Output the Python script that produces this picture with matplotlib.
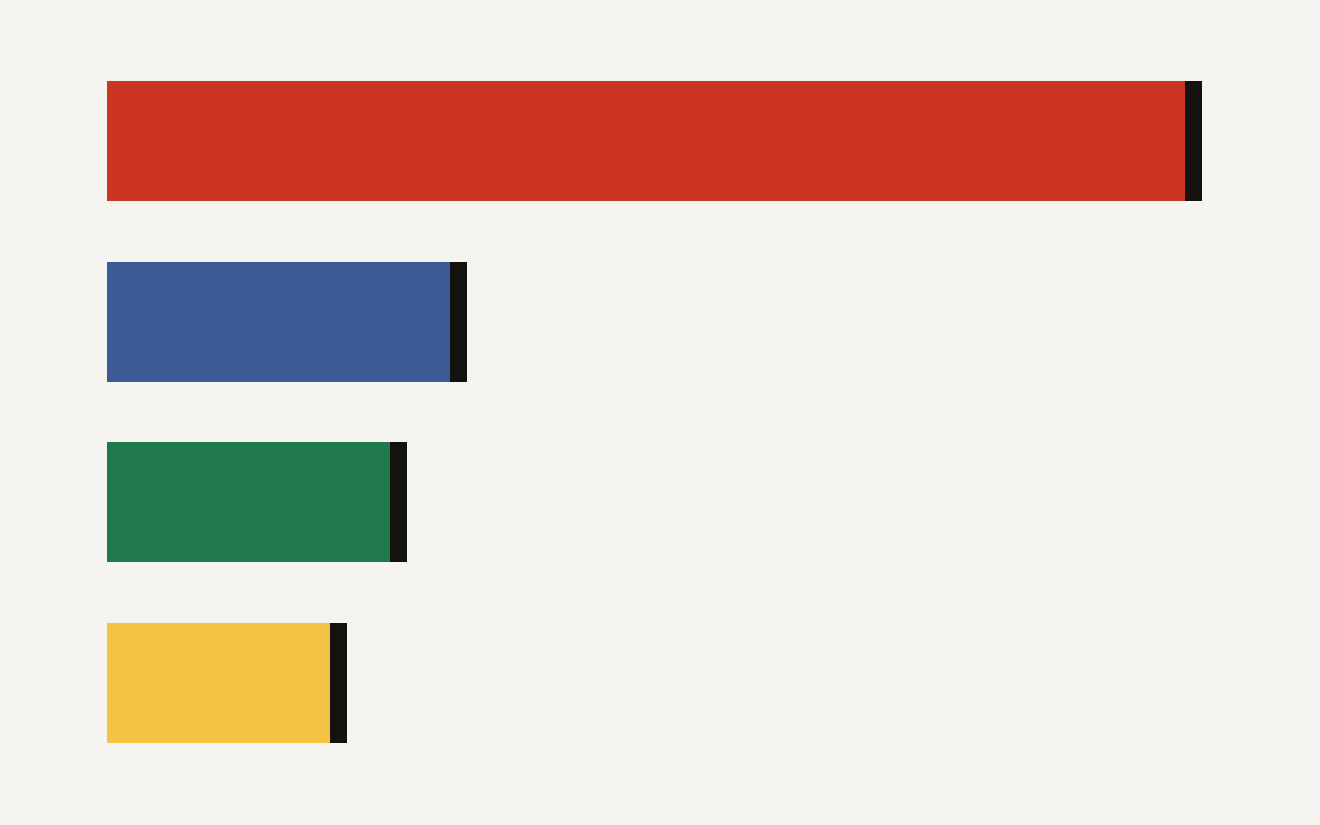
import matplotlib
matplotlib.use("Agg")
import matplotlib.pyplot as plt

# bar totals (chart has no labels)
categories = ["red", "blue", "green", "yellow"]
values = [73, 24, 20, 16]
colors = ["#cb3420", "#3c5b96", "#22794d", "#f3c443"]

BG = "#f5f4f0"
CAP = "#14120f"
cap_w = 1.13  # width of the dark end cap, in data units

fig = plt.figure(figsize=(13.2, 8.25), dpi=100, facecolor=BG)
# axes from x=107..1202 px, y=81..743 px
ax = fig.add_axes([107 / 1320, (825 - 743) / 825, 1095 / 1320, 662 / 825])
ax.set_facecolor(BG)

pos = list(range(len(categories)))
h = 0.664
body = [v - cap_w for v in values]
ax.barh(pos, body, height=h, color=colors, linewidth=0)
ax.barh(pos, [cap_w] * len(values), left=body, height=h, color=CAP, linewidth=0)

ax.set_xlim(0, max(values))
ax.set_ylim(len(pos) - 1 + h / 2, -h / 2)
ax.axis("off")

fig.savefig("out.png", dpi=100, facecolor=BG)
